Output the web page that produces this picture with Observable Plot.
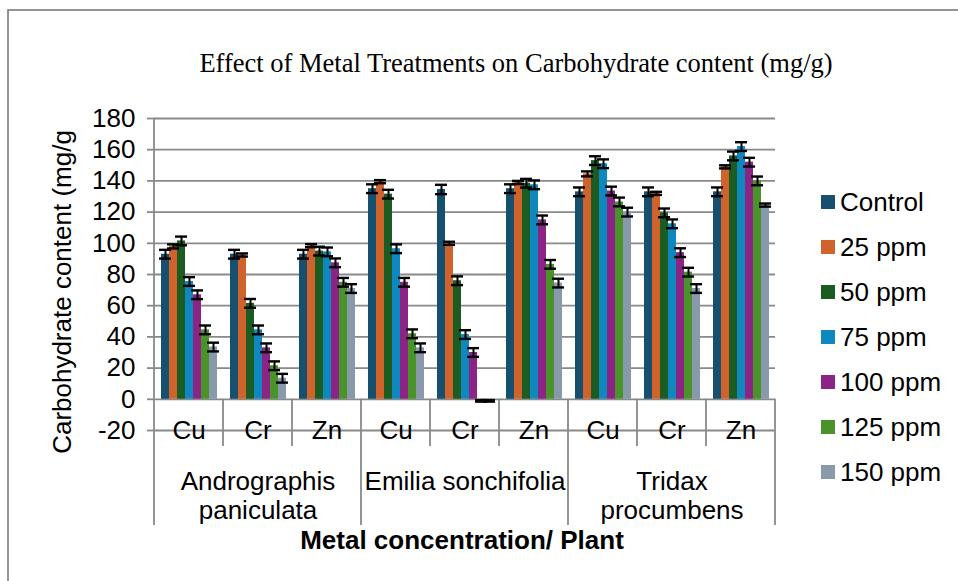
<!DOCTYPE html>
<html><head><meta charset="utf-8">
<script src="https://cdn.jsdelivr.net/npm/d3@7"></script>
<script src="https://cdn.jsdelivr.net/npm/@observablehq/plot@0.6"></script>
<style>
body{margin:0;background:#fff}
#chart{position:relative;width:958px;height:581px;overflow:hidden;background:#fff}
</style>
</head><body><div id="chart"></div>
<script>
// ---- data ----
const seriesNames = ["Control", "25 ppm", "50 ppm", "75 ppm", "100 ppm", "125 ppm", "150 ppm"];
const seriesColors = ["#17506e", "#d0622b", "#1a5c22", "#0f88bf", "#8b2484", "#4a932b", "#8899ab"];
const plantNames = ["Andrographis paniculata", "Emilia sonchifolia", "Tridax procumbens"];
const plantLabels = ["Andrographis\npaniculata", "Emilia sonchifolia", "Tridax\nprocumbens"];
const metalNames = ["Cu", "Cr", "Zn"];
const yTicks = [-20, 0, 20, 40, 60, 80, 100, 120, 140, 160, 180];

const andrographisCu = [93, 98, 101.5, 75.5, 67, 44.5, 33.5];
const andrographisCr = [93, 92.5, 61.5, 44.5, 33, 21.5, 13.5];
const andrographisZn = [93, 98.5, 95, 94.5, 87.5, 75, 71];
const emiliaCu = [135, 139.5, 131.5, 96.5, 75, 42, 33];
const emiliaCr = [134.5, 100, 76, 41.5, 30, -1, -1];
const emiliaZn = [135, 139, 138.5, 137.5, 115, 86.5, 74.5];
const tridaxCu = [133, 144.5, 153, 151, 133.5, 126.5, 120];
const tridaxCr = [133, 132, 119.5, 112.5, 94, 81.5, 71];
const tridaxZn = [133, 149, 156, 162, 152, 140, 124.5];

const andrographisCuErr = [2.8, 1.3, 2.8, 2.8, 2.8, 2.8, 2.8];
const andrographisCrErr = [2.8, 1, 2.8, 2.8, 2.8, 2.8, 2.8];
const andrographisZnErr = [2.8, 1, 2.8, 2.8, 2.8, 2.8, 2.8];
const emiliaCuErr = [2.8, 1, 2.8, 2.8, 2.8, 2.8, 2.8];
const emiliaCrErr = [3, 1, 2.8, 2.8, 2.8, 0.5, 0.5];
const emiliaZnErr = [2.8, 1, 2.8, 2.8, 2.8, 2.8, 2.8];
const tridaxCuErr = [2.8, 1.6, 2.8, 2.8, 2.8, 2.8, 2.8];
const tridaxCrErr = [2.8, 1, 2.8, 2.8, 2.8, 2.8, 2.8];
const tridaxZnErr = [2.8, 1, 2.8, 2.8, 2.8, 2.8, 1];

const groupValues = [andrographisCu, andrographisCr, andrographisZn, emiliaCu, emiliaCr, emiliaZn, tridaxCu, tridaxCr, tridaxZn];
const groupErrors = [andrographisCuErr, andrographisCrErr, andrographisZnErr, emiliaCuErr, emiliaCrErr, emiliaZnErr, tridaxCuErr, tridaxCrErr, tridaxZnErr];

// ---- tables built from the arrays ----
const groups = [];
const groupRows = [];
const rows = [];
plantNames.forEach((p, pi) => {
  metalNames.forEach((m, mi) => {
    const key = p + "|" + m;
    const gi = pi * 3 + mi;
    groups.push(key);
    groupRows.push({group: key, metal: m});
    seriesNames.forEach((s, si) => {
      rows.push({group: key, series: s, value: groupValues[gi][si], err: groupErrors[gi][si]});
    });
  });
});
const plantRows = plantNames.map((p, i) => ({group: p + "|" + metalNames[1], label: plantLabels[i]}));

const gridColor = "#898989";
const font = "'Liberation Sans', Arial, sans-serif";
const fs = 26;

const plot = Plot.plot({
  width: 958,
  height: 581,
  marginLeft: 150,
  marginRight: 179,
  marginTop: 118,
  marginBottom: 151,
  style: {fontFamily: font, fontSize: fs + "px", color: "#000", background: "transparent", overflow: "visible"},
  fx: {domain: groups, padding: 0, axis: null, label: null},
  x: {domain: seriesNames, paddingInner: 0, paddingOuter: 0.62, axis: null},
  y: {domain: [-20, 180], axis: null},
  color: {domain: seriesNames, range: seriesColors},
  marks: [
    Plot.ruleY(yTicks, {stroke: gridColor, strokeWidth: 1.8}),
    Plot.barY(rows, {fx: "group", x: "series", y: "value", fill: "series"}),
    Plot.ruleX(rows, {fx: "group", x: "series", y1: d => d.value - d.err, y2: d => d.value + d.err, stroke: "#000", strokeWidth: 2}),
    Plot.tickY(rows, {fx: "group", x: "series", y: d => d.value - d.err, stroke: "#000", strokeWidth: 2.4, insetLeft: -2, insetRight: -2}),
    Plot.tickY(rows, {fx: "group", x: "series", y: d => d.value + d.err, stroke: "#000", strokeWidth: 2.4, insetLeft: -2, insetRight: -2}),
    Plot.axisY({ticks: yTicks, tickFormat: d => String(d), tickSize: 7, tickPadding: 12, stroke: gridColor, strokeWidth: 1.8, label: null, fill: "#000"}),
    Plot.text(groupRows, {fx: "group", text: "metal", frameAnchor: "bottom", lineAnchor: "middle", fill: "#000"}),
    Plot.text(plantRows, {fx: "group", text: "label", frameAnchor: "bottom", lineAnchor: "top", dy: 40, lineHeight: 1.08, fill: "#000"})
  ]
});

document.getElementById("chart").appendChild(plot);

// ---- decorations positioned from the library's scales ----
const svg = d3.select(plot);
const fx = plot.scale("fx");
const y = plot.scale("y");
const color = plot.scale("color");
const bw = fx.bandwidth;
const y0 = y.apply(0);

const deco = svg.append("g").attr("stroke", gridColor).attr("stroke-width", 1.8).attr("fill", "none");
// outer chart border
deco.append("rect").attr("x", 8).attr("y", 10).attr("width", 1200).attr("height", 900);
// axis line and category separators
groups.forEach((g, i) => {
  const x = fx.apply(g);
  const bottom = i % 3 === 0 ? 525 : 446;
  deco.append("line").attr("x1", x).attr("x2", x).attr("y1", i === 0 ? y.apply(180) : y0).attr("y2", bottom);
});
{
  const xr = fx.apply(groups[groups.length - 1]) + bw;
  deco.append("line").attr("x1", xr).attr("x2", xr).attr("y1", y0).attr("y2", 525);
}

// title
svg.append("text").attr("x", 516).attr("y", 72).attr("text-anchor", "middle")
  .attr("font-family", "'Liberation Serif', 'Times New Roman', serif").attr("font-size", 26.5).attr("fill", "#000")
  .text("Effect of Metal Treatments on Carbohydrate content (mg/g)");

// y title
svg.append("text").attr("transform", "translate(62,292) rotate(-90)")
  .attr("text-anchor", "middle").attr("dominant-baseline", "central")
  .attr("font-family", font).attr("font-size", fs).attr("fill", "#000")
  .text("Carbohydrate content (mg/g");

// x title
svg.append("text").attr("x", 462).attr("y", 549).attr("text-anchor", "middle")
  .attr("font-family", font).attr("font-size", fs).attr("font-weight", "bold").attr("fill", "#000")
  .text("Metal concentration/ Plant");

// legend
const leg = svg.append("g").attr("font-family", font).attr("font-size", fs).attr("text-anchor", "start");
color.domain.forEach((s, i) => {
  const cy = 202 + 45 * i;
  leg.append("rect").attr("x", 821).attr("y", cy - 7).attr("width", 14).attr("height", 14).attr("fill", color.apply(s));
  leg.append("text").attr("x", 840).attr("y", cy).attr("text-anchor", "start").attr("dominant-baseline", "central").attr("fill", "#000").text(s);
});
</script>
</body></html>
